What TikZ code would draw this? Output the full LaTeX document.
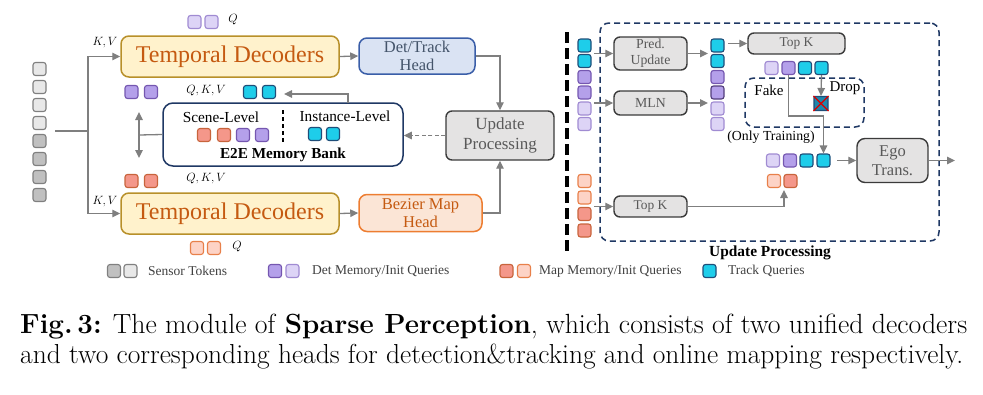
\documentclass[tikz,border=0pt]{standalone}
\usepackage{graphicx}
\usepackage{fontspec}
\newfontfamily\tms{Liberation Serif}
\usetikzlibrary{arrows.meta}
\definecolor{sLightF}{HTML}{E8E8E8}\definecolor{sDarkF}{HTML}{C0C0C0}\definecolor{sD}{HTML}{808080}
\definecolor{pDarkF}{HTML}{B4A0EA}\definecolor{pDarkD}{HTML}{7557B0}
\definecolor{pLightF}{HTML}{DDD4F6}\definecolor{pLightD}{HTML}{A08BD2}
\definecolor{mDarkF}{HTML}{F4978A}\definecolor{mDarkD}{HTML}{C8643C}
\definecolor{mLightF}{HTML}{FDD3C6}\definecolor{mLightD}{HTML}{E8804A}
\definecolor{cyF}{HTML}{1ECDEA}\definecolor{cyD}{HTML}{1F4E79}
\definecolor{arrC}{HTML}{7F7F7F}
\definecolor{decF}{HTML}{FFF2CC}\definecolor{decD}{HTML}{B8902A}\definecolor{decT}{HTML}{C55A11}
\definecolor{detF}{HTML}{DAE3F3}\definecolor{detD}{HTML}{3A5EA8}\definecolor{detT}{HTML}{44546A}
\definecolor{bezF}{HTML}{FBE5D6}\definecolor{bezD}{HTML}{ED7D31}\definecolor{bezT}{HTML}{C55A11}
\definecolor{grF}{HTML}{E4E3E3}\definecolor{grD}{HTML}{3B3B3B}\definecolor{grT}{HTML}{595959}
\definecolor{navy}{HTML}{1F3864}\definecolor{legT}{HTML}{404040}
\begin{document}
\begin{tikzpicture}[x=1pt,y=-1pt,
  tk/.style={minimum size=13pt,inner sep=0pt,rounded corners=2.5pt,line width=1.1pt},
  tkSL/.style={tk,fill=sLightF,draw=sD},
  tkSD/.style={tk,fill=sDarkF,draw=sD},
  tkPD/.style={tk,fill=pDarkF,draw=pDarkD},
  tkPL/.style={tk,fill=pLightF,draw=pLightD},
  tkMD/.style={tk,fill=mDarkF,draw=mDarkD},
  tkML/.style={tk,fill=mLightF,draw=mLightD},
  tkCY/.style={tk,fill=cyF,draw=cyD},
  ln/.style={draw=arrC,line width=1.3pt},
  arr/.style={ln,-{Triangle[length=8pt,width=7.5pt]}},
  decbox/.style={rounded corners=8pt,line width=1.5pt,fill=decF,draw=decD,text=decT,inner sep=0pt,
     minimum width=218pt,minimum height=41pt,font=\tms\fontsize{24}{26}\selectfont},
  headbox/.style={rounded corners=8pt,line width=1.5pt,inner sep=0pt,align=center,
     font=\tms\fontsize{16.5}{19.5}\selectfont},
  graybox/.style={rounded corners=6pt,line width=1.4pt,fill=grF,draw=grD,text=grT,inner sep=0pt,align=center},
  lbl/.style={inner sep=0pt,font=\fontsize{13}{15}\selectfont},
  inl/.style={inner sep=0pt,font=\tms\fontsize{15.3}{17}\selectfont},
  leg/.style={inner sep=0pt,anchor=west,text=legT,font=\tms\fontsize{13.5}{15}\selectfont},
  ndash/.style={draw=navy,line width=1.5pt,dash pattern=on 6pt off 4pt}
]
\useasboundingbox (0,0) rectangle (983,394);

% ---------- left part ----------
\foreach \i in {1,...,4}{\node[tkSL] (s\i) at (39.5,{69+18*(\i-1)}) {};}
\foreach \i in {5,...,8}{\node[tkSD] (s\i) at (39.5,{69+18*(\i-1)}) {};}
\coordinate (sj) at (55,131);
\coordinate (kj) at (88,131);

\node[decbox] (dec1) at (230,56.5) {Temporal Decoders};
\node[decbox] (dec2) at (230,213.5) {Temporal Decoders};

\node[headbox,fill=detF,draw=detD,text=detT,minimum width=116pt,minimum height=36pt] (det) at (417,56) {Det/Track\\[-2pt]Head};
\node[headbox,fill=bezF,draw=bezD,text=bezT,minimum width=123pt,minimum height=37pt] (bez) at (420.5,213) {Bezier Map\\[-2pt]Head};
\node[graybox,minimum width=108pt,minimum height=49pt,font=\tms\fontsize{17}{20}\selectfont] (upd) at (500,135.5) {Update\\Processing};

\node[rounded corners=10pt,line width=1.5pt,draw=navy,fill=white,minimum width=240pt,minimum height=63pt] (mem) at (283,134.5) {};
\node[inl] (scn) at (221,117) {Scene-Level};
\node[inl] (ins) at (345,116) {Instance-Level};
\coordinate (dv1) at (283,110);
\coordinate (dv2) at (283,143);
\draw[black,line width=1.4pt,dash pattern=on 4pt off 3pt] (dv1) -- (dv2);
\node[tkMD] (b1) at (204,135) {};
\node[tkMD] (b2) at (224,135) {};
\node[tkPD] (b3) at (243,135) {};
\node[tkPD] (b4) at (262,135) {};
\node[tkCY] (b5) at (315,134) {};
\node[tkCY] (b6) at (333,134) {};
\node[inner sep=0pt,font=\tms\bfseries\fontsize{15.2}{17}\selectfont] (mtxt) at (283,155) {E2E Memory Bank};

% tokens and labels
\node[tkPL] (q1) at (194.5,22) {};
\node[tkPL] (q2) at (211.5,22) {};
\node[lbl] (qa) at (233,20) {$Q$};
\node[lbl] (kv1) at (105,43) {$K,V$};
\node[tkPD] (p1) at (131.5,92) {};
\node[tkPD] (p2) at (151,92) {};
\node[lbl] (qkv1) at (206,91) {$Q,K,V$};
\node[tkCY] (c1) at (250,92) {};
\node[tkCY] (c2) at (269,92) {};
\node[tkMD] (o1) at (131.5,181) {};
\node[tkMD] (o2) at (151,181) {};
\node[lbl] (qkv2) at (206,179) {$Q,K,V$};
\node[lbl] (kv2) at (105,202) {$K,V$};
\node[tkML] (q3) at (197,248) {};
\node[tkML] (q4) at (214,248) {};
\node[lbl] (qb) at (237,247) {$Q$};

% connectors left
\draw[ln] (sj) -- (kj);
\draw[arr] (kj) |- (dec1.west);
\draw[arr] (kj) |- (dec2.west);
\draw[arr] (dec1.east) -- (det.west);
\draw[arr] (dec2.east) -- (bez.west);
\draw[arr] (det.east) -| (upd.north);
\draw[arr] (bez.east) -| (upd.south);
\draw[ln,dash pattern=on 4pt off 2.5pt,-{Triangle[length=8pt,width=7.5pt]}] (upd.west) -- (upd.west -| mem.east);
\coordinate (mu) at (348,103);
\coordinate (mt) at (284,94);
\draw[arr] (mu) |- (mt);
\coordinate (lj) at (139,135);
\coordinate (lu) at (139,112);
\coordinate (ld) at (139,158);
\draw[ln] (mem.west) -- (lj);
\draw[arr] (lj) -- (lu);
\draw[arr] (lj) -- (ld);

% ---------- right part ----------
\coordinate (bl1) at (567,32);
\coordinate (bl2) at (567,254);
\draw[black,line width=3.6pt,dash pattern=on 11pt off 5pt] (bl1) -- (bl2);
\node[ndash,rounded corners=9pt,minimum width=339pt,minimum height=218pt,inner sep=0pt] (ubox) at (769.5,132) {};
\node[inner sep=0pt,font=\tms\bfseries\fontsize{15.4}{17}\selectfont] (utxt) at (770,253) {Update Processing};

\node[tkCY] (L1) at (584.5,45.5) {};
\node[tkCY] (L2) at (584.5,61) {};
\node[tkPD] (L3) at (584.5,77) {};
\node[tkPD] (L4) at (584.5,92.5) {};
\node[tkPL] (L5) at (584.5,108.5) {};
\node[tkPL] (L6) at (584.5,124) {};
\node[tkML] (O1) at (584.5,181) {};
\node[tkML] (O2) at (584.5,197.5) {};
\node[tkMD] (O3) at (584.5,214) {};
\node[tkMD] (O4) at (584.5,230.5) {};

\node[tkCY] (M1) at (717.5,45.5) {};
\node[tkCY] (M2) at (717.5,61) {};
\node[tkPD] (M3) at (717.5,77) {};
\node[tkPD,draw=pDarkD!70!black] (M4) at (717.5,92.5) {};
\node[tkPL] (M5) at (717.5,108.5) {};
\node[tkPL] (M6) at (717.5,124) {};

\node[graybox,minimum width=73pt,minimum height=33pt,font=\tms\fontsize{13.8}{16}\selectfont] (pred) at (650.5,53.5) {Pred.\\Update};
\node[graybox,minimum width=73pt,minimum height=24pt,font=\tms\fontsize{13.8}{16}\selectfont] (mln) at (650.5,103) {MLN};
\node[graybox,minimum width=73pt,minimum height=21pt,font=\tms\fontsize{13.4}{16}\selectfont] (topk2) at (650.5,206.5) {Top K};
\node[graybox,minimum width=97pt,minimum height=21pt,font=\tms\fontsize{13.4}{16}\selectfont] (topk1) at (796.5,43.5) {Top K};
\node[graybox,rounded corners=8pt,minimum width=71pt,minimum height=44pt,font=\tms\fontsize{16.5}{19}\selectfont] (ego) at (892.5,160.5) {Ego\\Trans.};

\node[tkPL] (u1) at (771.5,68) {};
\node[tkPD] (u2) at (788.5,68) {};
\node[tkCY] (u3) at (805,68) {};
\node[tkCY] (u4) at (821.5,68) {};

\node[ndash,rounded corners=9pt,minimum width=119pt,minimum height=49pt,inner sep=0pt] (fbox) at (804.5,102.5) {};
\node[inner sep=0pt,font=\tms\fontsize{15}{17}\selectfont] (fake) at (769,90) {Fake};
\node[inner sep=0pt,font=\tms\fontsize{15}{17}\selectfont] (drop) at (845,88) {Drop};
\node[tk,minimum size=14pt,rounded corners=1pt,fill=cyD!55!cyF,draw=cyD] (xq) at (821,103.5) {};
\draw[red!85!black,line width=1.1pt] (xq.north west) -- (xq.south east) (xq.north east) -- (xq.south west);
\node[inner sep=0pt,font=\tms\fontsize{13.8}{16}\selectfont] (only) at (771,137) {(Only Training)};

\node[tkPL] (w1) at (773,160.5) {};
\node[tkPD] (w2) at (790,160.5) {};
\node[tkCY] (w3) at (806.5,160.5) {};
\node[tkCY] (w4) at (823.5,160.5) {};
\node[tkML] (r1) at (774,181) {};
\node[tkMD] (r2) at (790.5,181) {};

% connectors right
\coordinate (a1) at (594,53.5);
\coordinate (a2) at (594,103);
\coordinate (a3) at (594,206.5);
\coordinate (a4) at (708,53.5);
\coordinate (a5) at (708,103);
\draw[arr] (a1) -- (pred.west);
\draw[arr] (a2) -- (mln.west);
\draw[arr] (a3) -- (topk2.west);
\draw[arr] (pred.east) -- (a4);
\draw[arr] (mln.east) -- (a5);
\coordinate (a6) at (728,43.5);
\draw[arr] (a6) -- (topk1.west);
\draw[arr] (u4.south) -- (xq.north);
\draw[arr] (u2.south) -- ++(0,41) -| (w4.north);
\coordinate (a7) at (784,190);
\draw[arr] (topk2.east) -| (a7);
\coordinate (a8) at (837,160.5);
\draw[arr] (a8) -- (ego.west);
\coordinate (a9) at (955,160.5);
\draw[arr] (ego.east) -- (a9);

% ---------- legend ----------
\node[tkSD] (g1) at (114,271) {};
\node[tkSL] (g2) at (130.5,271) {};
\node[leg] (g3) at (148,271) {Sensor Tokens};
\node[tkPD] (g4) at (275,271) {};
\node[tkPL] (g5) at (292.5,271) {};
\node[leg] (g6) at (312,271) {Det Memory/Init Queries};
\node[tkMD] (g7) at (506.5,271) {};
\node[tkML] (g8) at (524,271) {};
\node[leg] (g9) at (539,271) {Map Memory/Init Queries};
\node[tkCY] (g10) at (709.5,271) {};
\node[leg] (g11) at (728,271) {Track Queries};

% ---------- caption ----------
\node[anchor=base west,inner sep=0pt] (cap1) at (20,333) {\resizebox{947pt}{!}{\fontsize{20}{24}\selectfont\textbf{Fig.\,3:} The module of \textbf{Sparse Perception}, which consists of two unified decoders}};
\node[anchor=base west,inner sep=0pt] (cap2) at (20,363) {\resizebox{943pt}{!}{\fontsize{20}{24}\selectfont and two corresponding heads for detection\&tracking and online mapping respectively.}};
\end{tikzpicture}
\end{document}
